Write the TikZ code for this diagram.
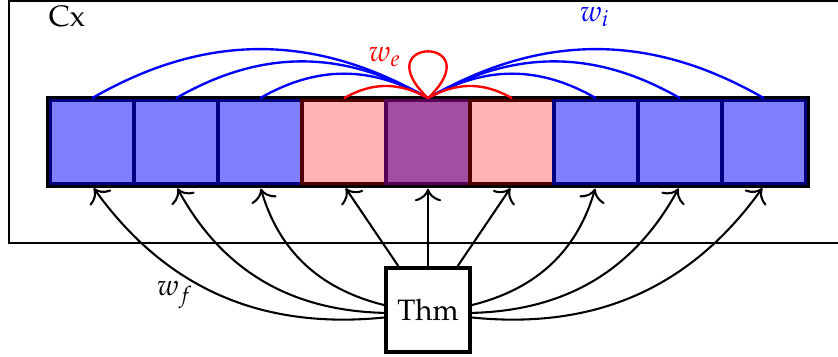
\documentclass[tikz,border=0pt]{standalone}
\usepackage[T1]{fontenc}
\usepackage{mathpazo}
\usetikzlibrary{arrows.meta}
\definecolor{cellblue}{RGB}{128,128,255}
\definecolor{cellbluedraw}{RGB}{0,0,128}
\definecolor{cellpink}{RGB}{255,179,179}
\definecolor{cellpinkdraw}{RGB}{80,0,0}
\definecolor{cellviolet}{RGB}{163,77,163}
\definecolor{cellvioletdraw}{RGB}{85,0,85}
\begin{document}
\begin{tikzpicture}[x=0.3387pt,y=0.3387pt,
  cell/.style={minimum size=1cm,inner sep=0pt,line width=1.2pt},
  bluecell/.style={cell,fill=cellblue,draw=cellbluedraw},
  pinkcell/.style={cell,fill=cellpink,draw=cellpinkdraw},
  violetcell/.style={cell,fill=cellviolet,draw=cellvioletdraw},
  bluearc/.style={blue,line width=0.8pt},
  redarc/.style={red,line width=0.8pt},
  arr/.style={line width=0.7pt,-{To[scale=1.35]},shorten >=1pt},
  thmbox/.style={draw,line width=1.3pt,minimum size=1cm,inner sep=0pt,fill=white}]
\useasboundingbox (0,0) rectangle (838,-356);
\clip (0,0) rectangle (838,-356);
% frame
\draw[line width=0.75pt] (9,-0.5) rectangle (870,-243);
% cells
\node[bluecell] (b1) at (92,-142) {};
\node[bluecell] (b2) at (176,-142) {};
\node[bluecell] (b3) at (260,-142) {};
\node[pinkcell] (b4) at (344,-142) {};
\node[violetcell] (b5) at (428,-142) {};
\node[pinkcell] (b6) at (512,-142) {};
\node[bluecell] (b7) at (596,-142) {};
\node[bluecell] (b8) at (680,-142) {};
\node[bluecell] (b9) at (764,-142) {};
\draw[line width=1pt] ([shift={(-0.5,0.5)}]b1.north west) rectangle ([shift={(0.5,-0.5)}]b9.south east);
% arcs
\draw[bluearc] (b5.north) to[bend right=30] (b1.north);
\draw[bluearc] (b5.north) to[bend right=30] (b2.north);
\draw[bluearc] (b5.north) to[bend right=30] (b3.north);
\draw[bluearc] (b5.north) to[bend left=30] (b7.north);
\draw[bluearc] (b5.north) to[bend left=30] (b8.north);
\draw[bluearc] (b5.north) to[bend left=30] (b9.north);
\draw[redarc] (b5.north) to[bend right=30] (b4.north);
\draw[redarc] (b5.north) to[bend left=30] (b6.north);
\draw[redarc] (b5.north) .. controls +(136:90) and +(44:90) .. (b5.north);
% Thm
\node[thmbox] (thm) at (428,-310) {Thm};
\draw[arr] (thm) -- (b5.south);
\draw[arr] (thm) -- (b4.south);
\draw[arr] (thm) -- (b6.south);
\draw[arr] (thm) to[bend left=30] (b3.south);
\draw[arr] (thm) to[bend left=30] (b2.south);
\draw[arr] (thm) to[bend left=30] (b1.south);
\draw[arr] (thm) to[bend right=30] (b7.south);
\draw[arr] (thm) to[bend right=30] (b8.south);
\draw[arr] (thm) to[bend right=30] (b9.south);
% labels
\node (cx) at (67,-17) {Cx};
\node[red] (we) at (385,-57) {$w_e$};
\node[blue] (wi) at (595,-17) {$w_i$};
\node (wf) at (175,-295) {$w_f$};
\end{tikzpicture}
\end{document}
